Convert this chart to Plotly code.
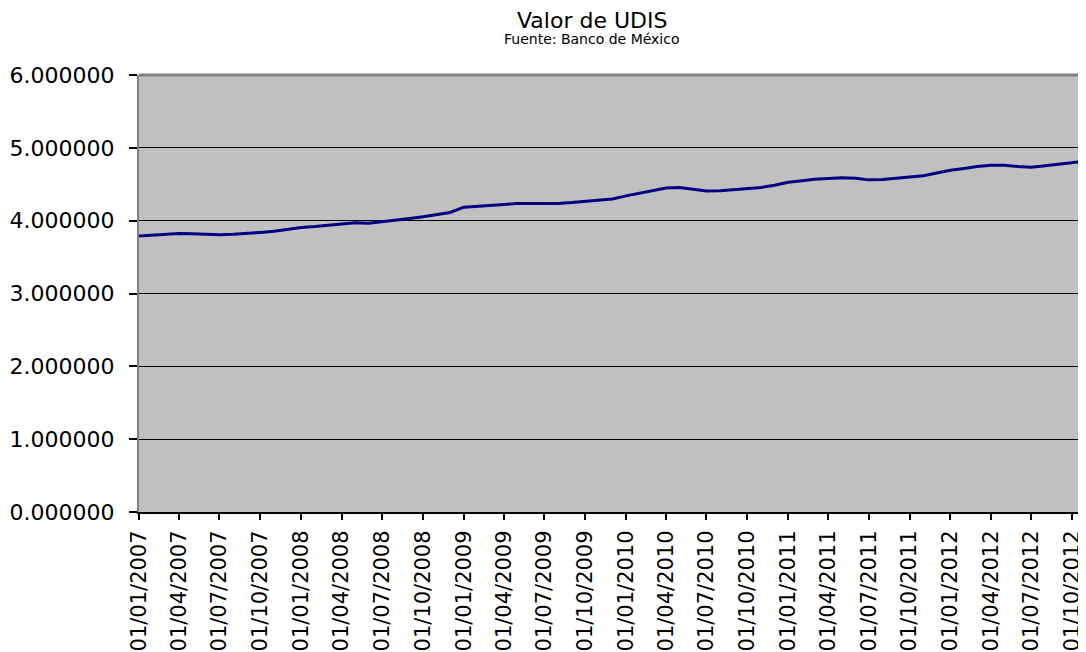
import plotly.graph_objects as go

months = [f"{y}-{m:02d}-01" for y in range(2007, 2013) for m in range(1, 13)][:71]

udis = [
    3.7889, 3.8035, 3.8143, 3.8232, 3.8198, 3.8094, 3.8051, 3.8118, 3.8221, 3.8392, 3.8541, 3.8771,
    3.9053, 3.9186, 3.9322, 3.9529, 3.9705, 3.9660, 3.9851, 4.0022, 4.0288, 4.0529, 4.0792, 4.1131,
    4.1847, 4.1946, 4.2046, 4.2234, 4.2345, 4.2328, 4.2312, 4.2373, 4.2480, 4.2650, 4.2755, 4.2970,
    4.3406, 4.3742, 4.4045, 4.4480, 4.4550, 4.4250, 4.4059, 4.4098, 4.4222, 4.4365, 4.4567, 4.4852,
    4.5265, 4.5476, 4.5696, 4.5797, 4.5877, 4.5807, 4.5601, 4.5656, 4.5807, 4.6006, 4.6169, 4.6532,
    4.6910, 4.7169, 4.7448, 4.7593, 4.7592, 4.7444, 4.7350, 4.7539, 4.7758, 4.7942, 4.8175,
]

y_ticks = [0, 1, 2, 3, 4, 5, 6]

# page body has an 8px default margin; figure coordinates are offset by it
OFF = 8
W, H = 1086 - OFF, 652 - OFF
L, T = 139 - OFF, 75 - OFF
R = 0
B = H - (512 - OFF)

fig = go.Figure()
fig.add_trace(go.Scatter(
    x=months, y=udis, mode="lines",
    line=dict(color="#000080", width=3),
    hoverinfo="x+y", showlegend=False,
))

font_family = "DejaVu Sans"

fig.update_layout(
    template="none",
    width=W, height=H,
    margin=dict(l=L, r=R, t=T, b=B, pad=0),
    paper_bgcolor="white",
    plot_bgcolor="#C0C0C0",
    font=dict(family=font_family, color="black"),
    xaxis=dict(
        type="date",
        automargin=False,
        range=["2007-01-01", "2012-11-01"],
        tick0="2007-01-01", dtick="M3",
        tickformat="%d/%m/%Y",
        tickangle=-90,
        ticks="outside", ticklen=6, tickwidth=2, tickcolor="black",
        tickfont=dict(size=21, family=font_family),
        showgrid=False, zeroline=False,
        showline=True, linecolor="black", linewidth=2,
        ticklabelstandoff=2,
    ),
    yaxis=dict(
        automargin=False,
        range=[0, 6],
        tickvals=y_ticks,
        tickformat=".6f",
        ticks="outside", ticklen=8, tickwidth=2, tickcolor="black",
        tickfont=dict(size=22, family=font_family),
        showgrid=True, gridcolor="black", gridwidth=1.3,
        zeroline=False,
        showline=True, linecolor="#808080", linewidth=2,
        ticklabelstandoff=10,
    ),
)

# top border of plot area
fig.add_shape(type="line", xref="paper", yref="paper", x0=0, x1=1, y0=1, y1=1,
              line=dict(color="#808080", width=3))

plot_w = W - L - R
plot_h = H - T - B

def px_to_paper(px, py):
    # px, py in reference (window) pixels
    return (px - OFF - L) / plot_w, (H - B - (py - OFF)) / plot_h

tx, ty = px_to_paper(592, 21)
fig.add_annotation(text="Valor de UDIS", xref="paper", yref="paper", x=tx, y=ty,
                   showarrow=False, font=dict(size=22, family=font_family, color="black"),
                   xanchor="center", yanchor="middle", borderpad=0)
sx, sy = px_to_paper(592, 39)
fig.add_annotation(text="Fuente: Banco de México", xref="paper", yref="paper", x=sx, y=sy,
                   showarrow=False, font=dict(size=14, family=font_family, color="black"),
                   xanchor="center", yanchor="middle", borderpad=0)

fig.write_html("out.html")
